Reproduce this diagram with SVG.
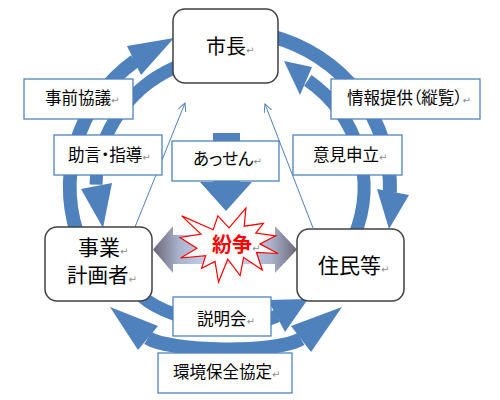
<svg xmlns="http://www.w3.org/2000/svg" width="500" height="400" viewBox="0 0 500 400">
<style>
.band{fill:none;stroke:#4f81bd;stroke-width:14}
.head{fill:#4f81bd}
.thin{fill:none;stroke:#4f81bd;stroke-width:1}
.node rect{fill:#fff;stroke:#404040;stroke-width:1.5}
.lbl rect{fill:#fff;stroke:#4f81bd;stroke-width:1.3}
text{font-family:"Noto Sans CJK JP","Noto Sans CJK SC",sans-serif;fill:#000}
.big{font-size:21px}
.sm{font-size:16.5px}
.palt{font-feature-settings:"palt"}
.rm{font-family:"DejaVu Sans",sans-serif;font-size:10px;fill:#8c8c8c;font-weight:normal}
</style>
<defs>
<marker id="oa" markerUnits="userSpaceOnUse" markerWidth="10" markerHeight="10" refX="8" refY="4" orient="auto">
<path d="M0,0 L8,4 L0,8" fill="none" stroke="#4f81bd" stroke-width="1"/>
</marker>
<linearGradient id="hg" gradientUnits="userSpaceOnUse" x1="153" y1="0" x2="297" y2="0">
<stop offset="0" stop-color="#6b6576"/>
<stop offset="0.18" stop-color="#a9b3cd"/>
<stop offset="0.4" stop-color="#c8d5ee"/>
<stop offset="0.6" stop-color="#c8d5ee"/>
<stop offset="0.82" stop-color="#a9b3cd"/>
<stop offset="1" stop-color="#6b6576"/>
</linearGradient>
</defs>

<g id="connectors">
<!-- 事前協議: outer left -->
<path class="band" d="M81.6 245.4 A160 156 0 0 1 135 61"/>
<polygon class="head" points="127,46 174,38 141,75"/>
<!-- 助言・指導: inner left -->
<path class="band" style="stroke-width:13" d="M184.2 63.9 A134 131 0 0 0 96.0 184.7"/>
<polygon class="head" points="81,189 103,228 112,183"/>
<!-- 情報提供: outer right -->
<path class="band" d="M271.4 36.3 A160 156 0 0 1 389.9 192.4"/>
<polygon class="head" points="377,189 409,195 389,229"/>
<!-- 意見申立: inner right -->
<path class="band" style="stroke-width:13" d="M354.2 236.1 A134 131 0 0 0 307.8 80.4"/>
<polygon class="head" points="312,67 284,61 300,95"/>
<!-- 説明会: inner bottom -->
<path class="band" style="stroke-width:13" d="M138 292 C160 320 240 333 277 316"/>
<polygon class="head" points="268,300 308,299 285,332"/>
<!-- 環境保全協定: outer bottom, double -->
<path class="band" d="M148 338 C170 352 275 354 301 339"/>
<polygon class="head" points="158,326 110,307 138,350"/>
<polygon class="head" points="291,326 342,307 311,352"/>
<!-- thin arrows -->
<line class="thin" x1="135" y1="227" x2="185" y2="103" marker-end="url(#oa)"/>
<line class="thin" x1="313" y1="228" x2="265" y2="104" marker-end="url(#oa)"/>
<!-- あっせん down arrow -->
<polygon class="head" points="213,133 240,133 240,182 252,182 226,211 200,182 213,182"/>
<!-- double arrow -->
<polygon fill="url(#hg)" points="153,249.5 173,226 173,235 275,235 275,226 297,249.5 275,273 275,264 173,264 173,273"/>
</g>

<g id="n-shicho" class="node">
<rect x="173" y="9" width="105" height="74" rx="12"/>
<text class="big" x="206" y="54" style="font-size:20px">市長<tspan class="rm">↵</tspan></text>
</g>
<g id="n-jigyo" class="node">
<rect x="45" y="227" width="107" height="74" rx="12"/>
<text class="big" x="78" y="255">事業<tspan class="rm">↵</tspan></text>
<text class="big" x="67" y="283" style="font-size:20.5px">計画者<tspan class="rm">↵</tspan></text>
</g>
<g id="n-jumin" class="node">
<rect x="297" y="229" width="107" height="72" rx="12"/>
<text class="big" x="318" y="273">住民等<tspan class="rm">↵</tspan></text>
</g>

<g id="l-jizen" class="lbl">
<rect x="24" y="79" width="109" height="40"/>
<text class="sm" x="45" y="104">事前協議<tspan class="rm">↵</tspan></text>
</g>
<g id="l-jogen" class="lbl">
<rect x="54" y="135" width="108" height="40"/>
<text class="sm palt" x="68" y="161">助言・指導<tspan class="rm">↵</tspan></text>
</g>
<g id="l-assen" class="lbl">
<rect x="172" y="141" width="107" height="40"/>
<text class="sm palt" x="193" y="165">あっせん<tspan class="rm">↵</tspan></text>
</g>
<g id="l-joho" class="lbl">
<rect x="331" y="79" width="149" height="40"/>
<text class="sm palt" x="347" y="104">情報提供（縦覧）<tspan class="rm">↵</tspan></text>
</g>
<g id="l-iken" class="lbl">
<rect x="293" y="135" width="109" height="40"/>
<text class="sm" x="313" y="161">意見申立<tspan class="rm">↵</tspan></text>
</g>
<g id="l-setsumei" class="lbl">
<rect x="173" y="297" width="98" height="39"/>
<text class="sm" x="197" y="325">説明会<tspan class="rm">↵</tspan></text>
</g>
<g id="l-kankyo" class="lbl">
<rect x="158" y="353" width="134" height="40"/>
<text class="sm" x="173" y="378">環境保全協定<tspan class="rm">↵</tspan></text>
</g>

<g id="n-funso">
<polygon fill="#fff" stroke="#ff0000" stroke-width="1.2" points="229,227.9 245.9,208 244.2,226.2 263.4,223.3 255.8,233.1 275.7,235.9 259.9,243.9 278,253.5 256.4,252.3 262.3,270 243.6,257.5 240.1,275.6 227.8,259.2 218.5,282 215,261.5 201.6,268.4 205.7,255.7 180.6,258 196.9,248.3 180,237.5 201,234.1 181.7,215.9 213.2,229.7 217.9,215.9"/>
<text x="212" y="252" style="font-size:20px;font-weight:bold;fill:#ff0000">紛争<tspan class="rm">↵</tspan></text>
</g>
</svg>
